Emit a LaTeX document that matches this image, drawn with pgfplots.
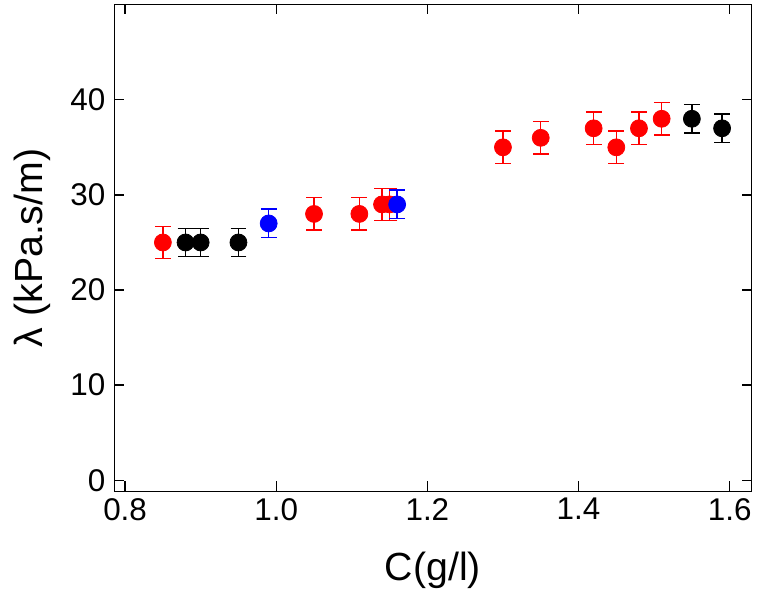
\documentclass[border={4bp 3bp 0.5bp 2bp}]{standalone}
\usepackage{fontspec}
\setmainfont{Liberation Sans}
\usepackage{pgfplots}
\pgfplotsset{compat=1.18}

\pgfplotsset{
  errpts/.style={
    only marks, mark=*, mark size=4.3bp,
    mark options={draw=#1, fill=#1},
    color=#1,
    error bars/.cd, y dir=both, y explicit,
    error bar style={line width=0.7bp, #1},
    error mark options={rotate=90, mark size=4bp, line width=0.7bp, #1}
  }
}

\begin{document}
\begin{tikzpicture}
\begin{axis}[
  scale only axis,
  width=323.5bp, height=247bp,
  xmin=0.7856, xmax=1.629,
  ymin=-1.15, ymax=50,
  xtick={0.8,1.0,...,1.6},
  ytick={0,10,20,30,40},
  xticklabel style={/pgf/number format/.cd, fixed, fixed zerofill, precision=1},
  yticklabel style={xshift=-1bp},
  /pgf/number format/assume math mode=true,
  tick align=inside,
  major tick length=5bp,
  tick style={black, line width=0.7bp},
  axis line style={line width=0.7bp},
  ticklabel style={font=\fontsize{16}{18}\selectfont},
  label style={font=\fontsize{20}{23}\selectfont},
  xlabel={C(g/l)},
  ylabel={λ (kPa.s/m)},
  xlabel style={yshift=-9bp},
  ylabel style={yshift=3bp},
  clip=false,
]
\addplot+[errpts=red] coordinates {
  (0.85,25) +- (0,1.7)
  (1.05,28) +- (0,1.7)
  (1.11,28) +- (0,1.7)
  (1.14,29) +- (0,1.7)
  (1.15,29) +- (0,1.7)
  (1.30,35) +- (0,1.7)
  (1.35,36) +- (0,1.7)
  (1.42,37) +- (0,1.7)
  (1.45,35) +- (0,1.7)
  (1.48,37) +- (0,1.7)
  (1.51,38) +- (0,1.7)
};
\addplot+[errpts=black] coordinates {
  (0.88,25) +- (0,1.5)
  (0.90,25) +- (0,1.5)
  (0.95,25) +- (0,1.5)
  (1.55,38) +- (0,1.5)
  (1.59,37) +- (0,1.5)
};
\addplot+[errpts=blue] coordinates {
  (0.99,27) +- (0,1.5)
  (1.16,29) +- (0,1.5)
};
\end{axis}
\end{tikzpicture}
\end{document}
